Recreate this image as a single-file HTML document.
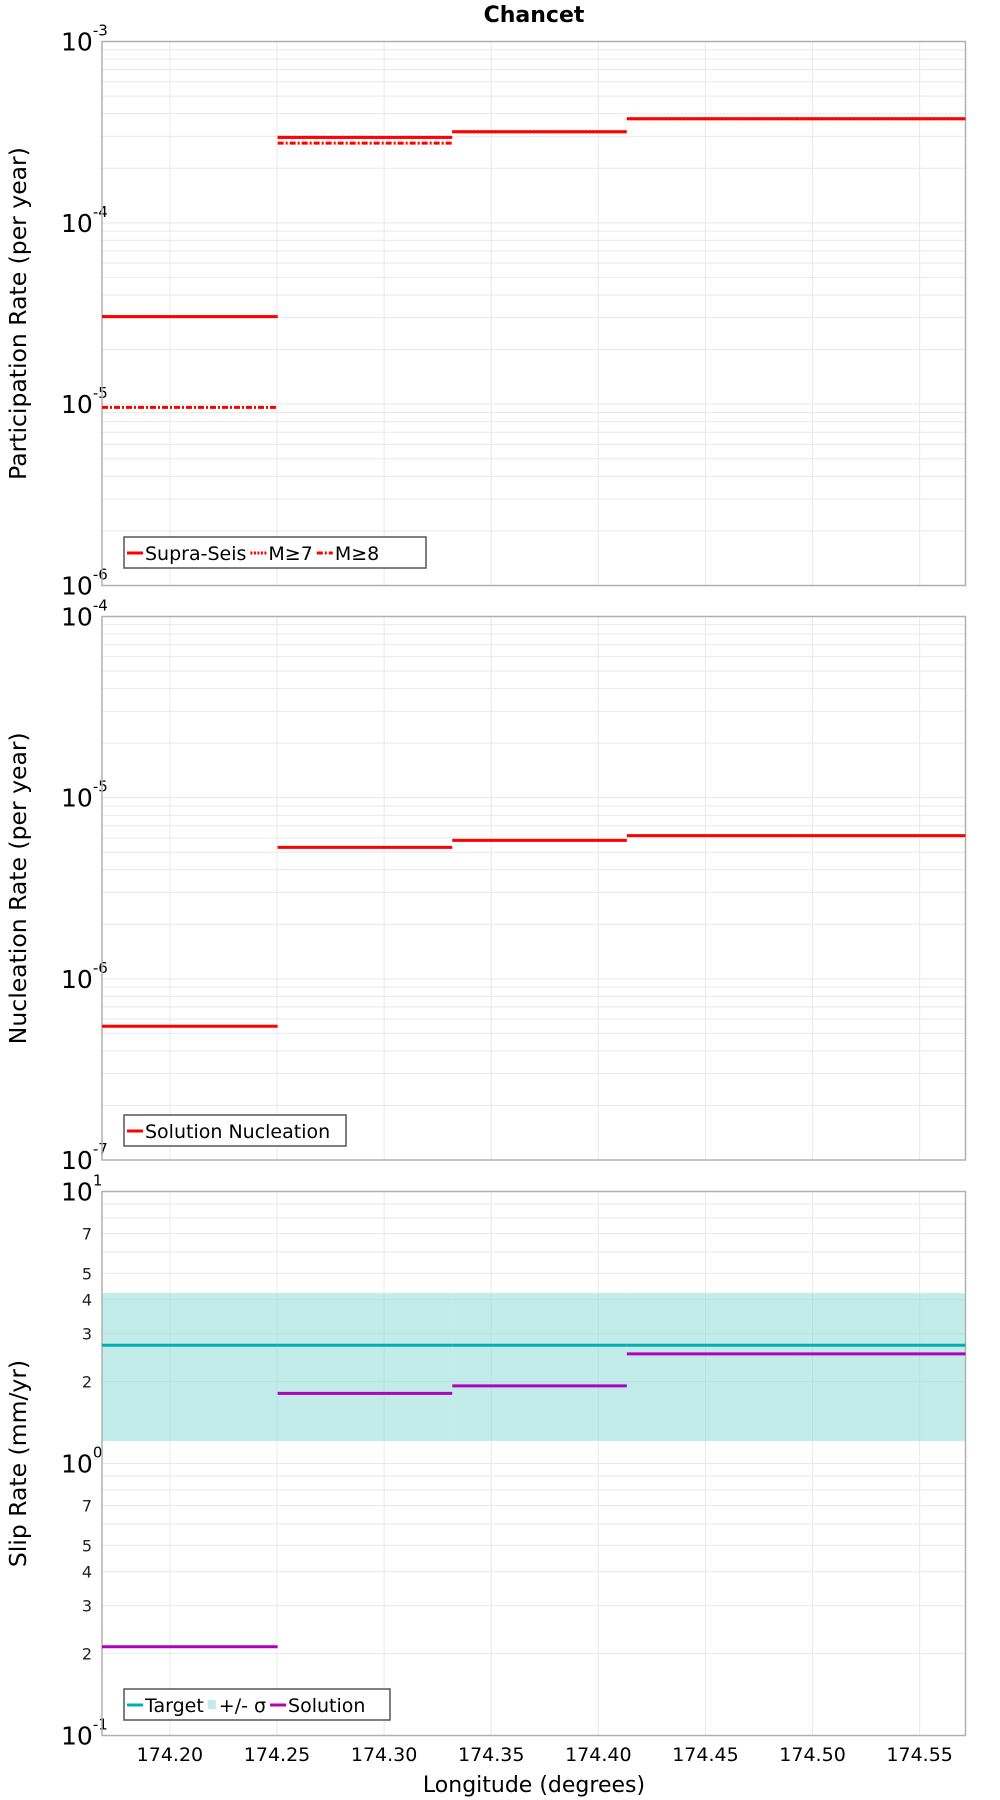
<!DOCTYPE html>
<html><head><meta charset="utf-8"><style>
body{margin:0;background:#fff;}
svg{display:block;font-family:"DejaVu Sans","Liberation Sans",sans-serif;}
</style></head><body>
<svg id="chart" width="1000" height="1800" viewBox="0 0 1000 1800" xmlns="http://www.w3.org/2000/svg">
<text x="534" y="22" text-anchor="middle" font-weight="bold" font-size="22">Chancet</text>
<g id="g"></g>
</svg>
<script>
const binEdges=[174.1683,174.2503,174.3318,174.4133,174.4925,174.5714];
const partSupra=[3.04e-5,2.96e-4,3.18e-4,3.75e-4,3.75e-4];
const partM7=[3.04e-5,2.96e-4,3.18e-4,3.75e-4,3.75e-4];
const partM8=[9.6e-6,2.75e-4,null,null,null];
const nucl=[5.47e-7,5.32e-6,5.81e-6,6.17e-6,6.17e-6];
const slipTarget=[2.72,2.72,2.72,2.72,2.72];
const slipHi=[4.23,4.23,4.23,4.23,4.23];
const slipLo=[1.21,1.21,1.21,1.21,1.21];
const slipSol=[0.212,1.81,1.93,2.53,2.53];
const xTicks=[174.20,174.25,174.30,174.35,174.40,174.45,174.50,174.55];

const NS="http://www.w3.org/2000/svg";
const G=document.getElementById('g');
const L=102,R=965.5,xmin=174.1683,xmax=174.5714;
const X=v=>L+(v-xmin)/(xmax-xmin)*(R-L);
function mk(tag,attrs,parent){const e=document.createElementNS(NS,tag);for(const k in attrs)e.setAttribute(k,attrs[k]);(parent||G).appendChild(e);return e;}

function panel(top,bot,emin,emax,title,minorLabels){
  const Y=v=>bot-(Math.log10(v)-emin)/(emax-emin)*(bot-top);
  const grp=mk('g',{});
  
  
  for(const t of xTicks){const l=mk('line',{x1:X(t),x2:X(t),y1:top,y2:bot,stroke:'#e9e9e9','stroke-width':1},grp);
    }
  for(let e=emin;e<emax;e++){for(let m=1;m<10;m++){const v=m*Math.pow(10,e);const y=Y(v);
    const l=mk('line',{x1:L,x2:R,y1:y,y2:y,stroke:'#e9e9e9','stroke-width':1},grp);
    
    if(m>1&&minorLabels&&[2,3,4,5,7].includes(m)){const t=mk('text',{x:92,y:y+6,'text-anchor':'end','font-size':16,fill:'#222'},grp);t.textContent=m;
      }
  }}
  for(let e=emin;e<=emax;e++){const y=Y(Math.pow(10,e));
    const t=mk('text',{x:61,y:y+9,'font-size':25},grp);t.textContent='10';
    
    const s=mk('tspan',{dy:-15,'font-size':15},t);s.textContent=String(e);}
  const tt=mk('text',{x:0,y:0,'text-anchor':'middle','font-size':23.5,transform:`translate(26,${(top+bot)/2}) rotate(-90)`},grp);
  tt.textContent=title;
  return {Y,grp};
}
function frame(top,bot,grp){const r=mk('rect',{x:L,y:top,width:R-L,height:bot-top,fill:'none',stroke:'#b0b0b0','stroke-width':1.5},grp);
  }
function steps(vals,Y,color,dash,name,grp,w){vals.forEach((v,i)=>{if(v==null)return;
  const l=mk('line',{x1:X(binEdges[i]),x2:X(binEdges[i+1]),y1:Y(v),y2:Y(v),stroke:color,'stroke-width':w||3},grp);
  if(dash)l.setAttribute('stroke-dasharray',dash);
  });}
function legend(x,y,w,items,grp){const lg=mk('g',{},grp);
  mk('rect',{x:x,y:y,width:w,height:31,fill:'#fff',stroke:'#555','stroke-width':1.5},lg);
  let cx=x+3;for(const it of items){
    if(it.band){mk('rect',{x:cx,y:y+11,width:8,height:9,fill:'#c2ecea'},lg);cx+=11;}
    else{const l=mk('line',{x1:cx,x2:cx+16,y1:y+16,y2:y+16,stroke:it.c,'stroke-width':3},lg);if(it.d)l.setAttribute('stroke-dasharray',it.d);cx+=18;}
    const t=mk('text',{x:cx,y:y+23,'font-size':19},lg);t.textContent=it.t;
    
    cx+=t.getComputedTextLength()+4;}}

let p=panel(41.5,585.5,-6,-3,'Participation Rate (per year)',false);
frame(41.5,585.5,p.grp);
steps(partM7,p.Y,'#f00','2 1.5','m7-series',p.grp);
steps(partSupra,p.Y,'#f00',null,'supra-seis-series',p.grp);
steps(partM8,p.Y,'#f00','6 2 2 2','m8-series',p.grp);
legend(124,537,302,[{c:'#f00',t:'Supra-Seis'},{c:'#f00',d:'2 1.5',t:'M≥7'},{c:'#f00',d:'6 2 2 2',t:'M≥8'}],p.grp);

p=panel(616.5,1160,-7,-4,'Nucleation Rate (per year)',false);
frame(616.5,1160,p.grp);
steps(nucl,p.Y,'#f00',null,'nucleation-series',p.grp);
legend(124,1115,222,[{c:'#f00',t:'Solution Nucleation'}],p.grp);

p=panel(1191.5,1735.5,-1,1,'Slip Rate (mm/yr)',true);
slipHi.forEach((v,i)=>{const r=mk('rect',{x:X(binEdges[i]),width:X(binEdges[i+1])-X(binEdges[i]),y:p.Y(v),height:p.Y(slipLo[i])-p.Y(v),fill:'#8fdcd8','fill-opacity':0.55},p.grp);
  });
frame(1191.5,1735.5,p.grp);
steps(slipTarget,p.Y,'#00b0b0',null,'target-series',p.grp);
steps(slipSol,p.Y,'#b000c0',null,'solution-series',p.grp);
legend(124,1689,266,[{c:'#00b0b0',t:'Target'},{band:1,t:'+/- σ'},{c:'#b000c0',t:'Solution'}],p.grp);
for(const t of xTicks){const e=mk('text',{x:X(t),y:1761,'text-anchor':'middle','font-size':19});e.textContent=t.toFixed(2);
  }
const xt=mk('text',{x:534,y:1792,'text-anchor':'middle','font-size':22});xt.textContent='Longitude (degrees)';

</script>
</body></html>
